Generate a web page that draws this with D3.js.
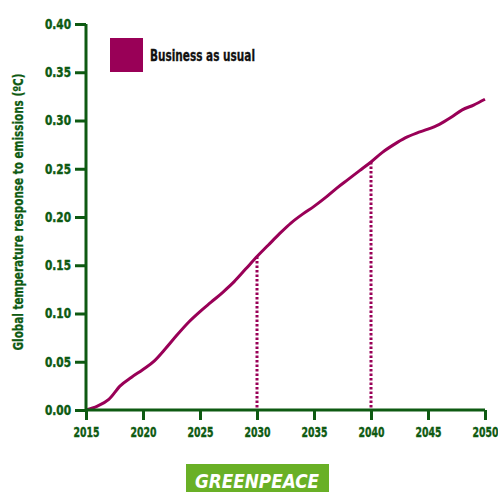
<!DOCTYPE html>
<html>
<head>
<meta charset="utf-8">
<script src="https://cdn.jsdelivr.net/npm/d3@7/dist/d3.min.js"></script>
<style>
  html, body { margin: 0; padding: 0; background: #fff; }
  svg { display: block; }
  .cond { font-family: "DejaVu Sans Condensed", "Liberation Sans Narrow", sans-serif; font-weight: bold; }
</style>
</head>
<body>
<svg id="chart" width="498" height="492"></svg>
<script>
// Global temperature response to emissions, business-as-usual path
const years = [2015, 2016, 2017, 2018, 2019, 2020, 2021, 2022, 2023, 2024, 2025,
               2026, 2027, 2028, 2029, 2030, 2031, 2032, 2033, 2034, 2035,
               2036, 2037, 2038, 2039, 2040, 2041, 2042, 2043, 2044, 2045,
               2046, 2047, 2048, 2049, 2050];
const businessAsUsual = [0.000, 0.004, 0.011, 0.025, 0.034, 0.042, 0.051, 0.064, 0.078, 0.091, 0.102,
                         0.112, 0.122, 0.133, 0.146, 0.159, 0.171, 0.183, 0.194, 0.203, 0.211,
                         0.220, 0.230, 0.239, 0.248, 0.257, 0.267, 0.275, 0.282, 0.287, 0.291,
                         0.296, 0.303, 0.311, 0.316, 0.322];
const xTicks = [2015, 2020, 2025, 2030, 2035, 2040, 2045, 2050];
const yTicks = [0.00, 0.05, 0.10, 0.15, 0.20, 0.25, 0.30, 0.35, 0.40];
const markerYears = [2030, 2040];
const seriesName = "Business as usual";
const yTitle = "Global temperature response to emissions (ºC)";

const GREEN = "#0e5a12";
const PURPLE = "#990057";

const svg = d3.select("#chart");
const x = d3.scaleLinear().domain([2015, 2050]).range([86, 485]);
const y = d3.scaleLinear().domain([0, 0.4]).range([410, 24]);

const valueAt = yr => businessAsUsual[years.indexOf(yr)];

// Dotted drop lines at the marker years
svg.selectAll("line.marker")
  .data(markerYears)
  .join("line")
  .attr("class", "marker")
  .attr("x1", d => x(d)).attr("x2", d => x(d))
  .attr("y1", d => y(valueAt(d))).attr("y2", y(0))
  .attr("stroke", PURPLE)
  .attr("stroke-width", 3)
  .attr("stroke-dasharray", "2.5,2");

// Series line
const line = d3.line()
  .x((d, i) => x(years[i]))
  .y(d => y(d))
  .curve(d3.curveMonotoneX);

svg.append("path")
  .datum(businessAsUsual)
  .attr("d", line)
  .attr("fill", "none")
  .attr("stroke", PURPLE)
  .attr("stroke-width", 3)
  .attr("stroke-linejoin", "round");

// Axes
const xAxis = svg.append("g")
  .attr("transform", `translate(0,${y(0)})`)
  .call(d3.axisBottom(x).tickValues(xTicks).tickFormat(d3.format("d")).tickSize(10).tickPadding(4));
const yAxis = svg.append("g")
  .attr("transform", `translate(${x(2015)},0)`)
  .call(d3.axisLeft(y).tickValues(yTicks).tickFormat(d3.format(".2f")).tickSize(11).tickPadding(4));

[xAxis, yAxis].forEach(g => {
  g.select(".domain").attr("stroke", GREEN).attr("stroke-width", 3)
    .attr("d", g === xAxis ? `M${x(2015)},0H${x(2050)}` : `M0,${y(0.4)}V${y(0) + 1.5}`);
  g.selectAll(".tick line").attr("stroke", GREEN).attr("stroke-width", 3);
  g.selectAll(".tick text")
    .attr("class", "cond")
    .attr("fill", GREEN)
    .attr("stroke", GREEN)
    .attr("stroke-width", 0.4)
    .attr("lengthAdjust", "spacingAndGlyphs")
    .attr("textLength", 26);
});
xAxis.selectAll(".tick text").attr("dy", "0.95em").style("font-size", "14px");
yAxis.selectAll(".tick text").style("font-size", "13.5px");

// Y-axis title
svg.append("text")
  .attr("class", "cond")
  .attr("transform", `translate(23,212) rotate(-90)`)
  .attr("text-anchor", "middle")
  .attr("fill", GREEN)
  .attr("stroke", GREEN)
  .attr("stroke-width", 0.3)
  .attr("textLength", 277)
  .attr("lengthAdjust", "spacingAndGlyphs")
  .style("font-size", "14px")
  .text(yTitle);

// Legend
svg.append("rect")
  .attr("x", 110).attr("y", 38)
  .attr("width", 33).attr("height", 34)
  .attr("fill", PURPLE);
svg.append("text")
  .attr("class", "cond")
  .attr("x", 150).attr("y", 61)
  .attr("fill", "#111")
  .attr("stroke", "#111")
  .attr("stroke-width", 0.3)
  .attr("textLength", 105)
  .attr("lengthAdjust", "spacingAndGlyphs")
  .style("font-size", "15px")
  .text(seriesName);

// Logo badge
svg.append("rect")
  .attr("x", 186).attr("y", 464)
  .attr("width", 143).attr("height", 28)
  .attr("fill", "#69b026");
svg.append("text")
  .attr("x", 195).attr("y", 488)
  .attr("fill", "#fff")
  .attr("font-family", "'DejaVu Sans Condensed', 'Liberation Sans Narrow', sans-serif")
  .attr("font-weight", "bold")
  .attr("font-style", "italic")
  .attr("textLength", 124)
  .attr("lengthAdjust", "spacingAndGlyphs")
  .style("font-size", "20px")
  .text("GREENPEACE");
</script>
</body>
</html>
